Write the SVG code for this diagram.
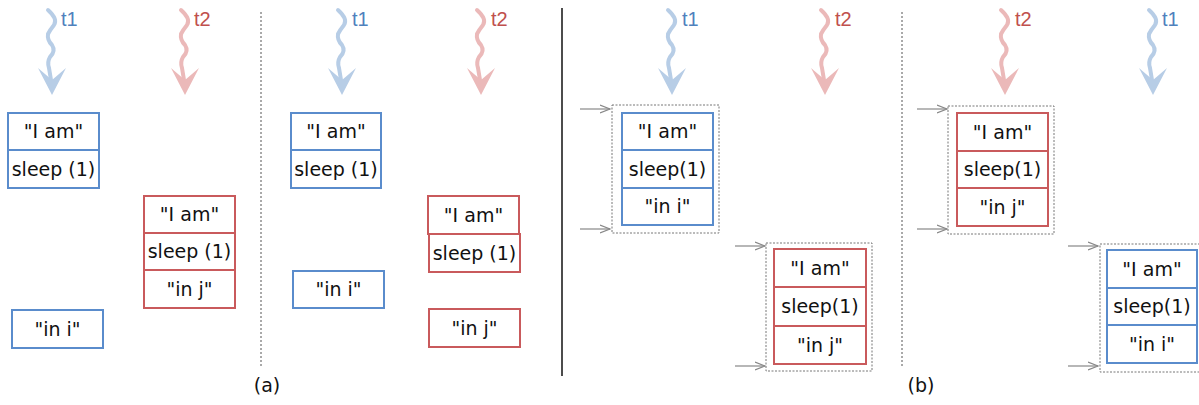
<svg xmlns="http://www.w3.org/2000/svg" width="1199" height="405" viewBox="0 0 1199 405">
<style>
.bb{fill:#fff;stroke:#5a8ccc;stroke-width:2}
.rb{fill:#fff;stroke:#c95a5c;stroke-width:2}
.tx{font-family:"DejaVu Sans",Verdana,sans-serif;font-size:19px;fill:#111;text-anchor:middle}
.lb{font-family:"Liberation Sans",Arial,sans-serif;font-size:20px}
.dash{fill:none;stroke:#777;stroke-width:1;stroke-dasharray:2,1.5}
.vd{stroke:#555;stroke-width:1;stroke-dasharray:2,2}
.ga{stroke:#888;stroke-width:1.2;fill:none}
</style>
<defs>
<g id="wave">
<path d="M0,0 Q10,9 6,15 Q2,20 0,24 Q-1,30 4,35 Q8,41 2,47 Q-1,52 1,58 L3,70" fill="none" stroke="currentColor" stroke-width="4" stroke-linecap="round"/>
<polygon points="-10,58 4,70 18,58 4,85" fill="currentColor"/>
</g>
<marker id="ah" markerWidth="12" markerHeight="10" refX="10" refY="5" orient="auto" markerUnits="userSpaceOnUse">
<path d="M0,1 L10,5 L0,9" fill="none" stroke="#888" stroke-width="1.2"/>
</marker>
</defs>

<g id="dividers">
<line x1="261" y1="12" x2="261" y2="368" class="vd"/>
<line x1="562" y1="8" x2="562" y2="376" stroke="#111" stroke-width="1.5"/>
<line x1="902" y1="12" x2="902" y2="368" class="vd"/>
</g>

<g id="threads">
<g color="#b7cde6"><use href="#wave" x="48" y="10"/></g>
<text x="61" y="26" class="lb" fill="#4f81bd">t1</text>
<g color="#ebb9b9"><use href="#wave" x="181" y="10"/></g>
<text x="194" y="26" class="lb" fill="#c0504d">t2</text>
<g color="#b7cde6"><use href="#wave" x="338" y="10"/></g>
<text x="352" y="26" class="lb" fill="#4f81bd">t1</text>
<g color="#ebb9b9"><use href="#wave" x="477" y="10"/></g>
<text x="491" y="26" class="lb" fill="#c0504d">t2</text>
<g color="#b7cde6"><use href="#wave" x="668" y="10"/></g>
<text x="682" y="26" class="lb" fill="#4f81bd">t1</text>
<g color="#ebb9b9"><use href="#wave" x="821" y="10"/></g>
<text x="835" y="26" class="lb" fill="#c0504d">t2</text>
<g color="#ebb9b9"><use href="#wave" x="1001" y="10"/></g>
<text x="1015" y="26" class="lb" fill="#c0504d">t2</text>
<g color="#b7cde6"><use href="#wave" x="1149" y="10"/></g>
<text x="1162" y="26" class="lb" fill="#4f81bd">t1</text>
</g>

<g id="a1-t1">
<rect x="8" y="113" width="91" height="37" class="bb"/>
<text x="53.5" y="138" class="tx">"I am"</text>
<rect x="8" y="150" width="91" height="38" class="bb"/>
<text x="53.5" y="176" class="tx">sleep (1)</text>
</g>
<g id="a1-t2">
<rect x="144" y="196" width="91" height="37" class="rb"/>
<text x="189.5" y="221" class="tx">"I am"</text>
<rect x="144" y="233" width="91" height="37" class="rb"/>
<text x="189.5" y="258" class="tx">sleep (1)</text>
<rect x="144" y="270" width="91" height="38" class="rb"/>
<text x="189.5" y="296" class="tx">"in j"</text>
</g>
<g id="a1-ini">
<rect x="12" y="310" width="91" height="38" class="bb"/>
<text x="57.5" y="336" class="tx">"in i"</text>
</g>

<g id="a2-t1">
<rect x="291" y="113" width="90" height="37" class="bb"/>
<text x="336" y="138" class="tx">"I am"</text>
<rect x="291" y="150" width="90" height="38" class="bb"/>
<text x="336" y="176" class="tx">sleep (1)</text>
</g>
<g id="a2-t2">
<rect x="428" y="196" width="91" height="38" class="rb"/>
<text x="473.5" y="222" class="tx">"I am"</text>
<rect x="429" y="234" width="91" height="38" class="rb"/>
<text x="474.5" y="260" class="tx">sleep (1)</text>
</g>
<g id="a2-ini">
<rect x="293" y="271" width="91" height="37" class="bb"/>
<text x="338.5" y="296" class="tx">"in i"</text>
</g>
<g id="a2-inj">
<rect x="429" y="309" width="91" height="38" class="rb"/>
<text x="474.5" y="335" class="tx">"in j"</text>
</g>

<g id="b1-t1">
<rect x="612" y="105" width="107" height="128" class="dash"/>
<rect x="622" y="113" width="91" height="37" class="bb"/>
<text x="667.5" y="138" class="tx">"I am"</text>
<rect x="622" y="150" width="91" height="38" class="bb"/>
<text x="667.5" y="176" class="tx">sleep(1)</text>
<rect x="622" y="188" width="91" height="37" class="bb"/>
<text x="667.5" y="213" class="tx">"in i"</text>
</g>
<g id="b1-t2">
<rect x="766" y="243" width="106" height="128" class="dash"/>
<rect x="774" y="249" width="92" height="38" class="rb"/>
<text x="820" y="275" class="tx">"I am"</text>
<rect x="774" y="287" width="92" height="39" class="rb"/>
<text x="820" y="313" class="tx">sleep(1)</text>
<rect x="774" y="326" width="92" height="38" class="rb"/>
<text x="820" y="352" class="tx">"in j"</text>
</g>
<g id="b2-t2">
<rect x="948" y="106" width="106" height="128" class="dash"/>
<rect x="957" y="113" width="91" height="38" class="rb"/>
<text x="1002.5" y="139" class="tx">"I am"</text>
<rect x="957" y="151" width="91" height="37" class="rb"/>
<text x="1002.5" y="176" class="tx">sleep(1)</text>
<rect x="957" y="188" width="91" height="38" class="rb"/>
<text x="1002.5" y="214" class="tx">"in j"</text>
</g>
<g id="b2-t1">
<rect x="1100" y="244" width="110" height="128" class="dash"/>
<rect x="1107" y="250" width="90" height="38" class="bb"/>
<text x="1152" y="276" class="tx">"I am"</text>
<rect x="1107" y="288" width="90" height="37" class="bb"/>
<text x="1152" y="313" class="tx">sleep(1)</text>
<rect x="1107" y="325" width="90" height="38" class="bb"/>
<text x="1152" y="351" class="tx">"in i"</text>
</g>

<g id="connectors">
<line x1="580" y1="109" x2="610" y2="109" class="ga" marker-end="url(#ah)"/>
<line x1="580" y1="229" x2="610" y2="229" class="ga" marker-end="url(#ah)"/>
<line x1="735" y1="246" x2="765" y2="246" class="ga" marker-end="url(#ah)"/>
<line x1="735" y1="366" x2="765" y2="366" class="ga" marker-end="url(#ah)"/>
<line x1="917" y1="109" x2="947" y2="109" class="ga" marker-end="url(#ah)"/>
<line x1="917" y1="229" x2="947" y2="229" class="ga" marker-end="url(#ah)"/>
<line x1="1068" y1="246" x2="1098" y2="246" class="ga" marker-end="url(#ah)"/>
<line x1="1068" y1="366" x2="1098" y2="366" class="ga" marker-end="url(#ah)"/>
</g>

<g id="captions">
<text x="267" y="392" class="tx">(a)</text>
<text x="921" y="392" class="tx">(b)</text>
</g>
</svg>
